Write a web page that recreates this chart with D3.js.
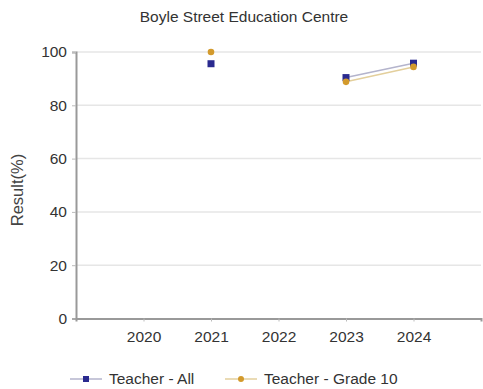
<!DOCTYPE html>
<html>
<head>
<meta charset="utf-8">
<script src="https://cdn.jsdelivr.net/npm/d3@7"></script>
<style>
  html, body { margin: 0; padding: 0; background: #fff; }
  svg { display: block; font-family: Arial, "Liberation Sans", sans-serif; }
</style>
</head>
<body>
<svg id="chart" width="483" height="389"></svg>
<script>
// Years shown on the x axis
const years = [2020, 2021, 2022, 2023, 2024];
// Results per year (null = no result reported)
const teacherAll = [null, 95.6, null, 90.4, 95.8];
const teacherGrade10 = [null, 100, null, 88.8, 94.4];
const yTicks = [0, 20, 40, 60, 80, 100];

const seriesNames = ["Teacher - All", "Teacher - Grade 10"];

const svg = d3.select("#chart");
const plotLeft = 76, plotRight = 481, plotTop = 52, plotBottom = 318.5;
const fontSize = 15.5;
const fontFamily = "Arial, Liberation Sans, sans-serif";

const x = d3.scaleLinear().domain([2019, 2025]).range([plotLeft, plotRight]);
const y = d3.scaleLinear().domain([0, 100]).range([plotBottom, plotTop]);

// Title
svg.append("text")
  .attr("x", 244).attr("y", 22)
  .attr("text-anchor", "middle")
  .attr("font-size", fontSize)
  .attr("fill", "#333")
  .text("Boyle Street Education Centre");

// Gridlines
svg.append("g")
  .selectAll("line")
  .data(yTicks.filter(d => d > 0))
  .join("line")
  .attr("x1", plotLeft).attr("x2", plotRight)
  .attr("y1", d => y(d)).attr("y2", d => y(d))
  .attr("stroke", "#e6e6e6").attr("stroke-width", 1.5);

// Y axis
const yAxis = svg.append("g")
  .attr("transform", `translate(${plotLeft},0)`)
  .call(d3.axisLeft(y).tickValues(yTicks).tickSize(4).tickPadding(5));
yAxis.select(".domain").attr("stroke", "#999").attr("stroke-width", 2);
yAxis.selectAll(".tick line").attr("stroke", "#bbb");
yAxis.selectAll("text").attr("font-size", fontSize).attr("fill", "#333").attr("font-family", fontFamily);

// X axis
const xAxis = svg.append("g")
  .attr("transform", `translate(0,${plotBottom})`)
  .call(d3.axisBottom(x).tickValues(years).tickFormat(d3.format("d")).tickSize(3).tickPadding(9));
xAxis.select(".domain").attr("stroke", "#999").attr("stroke-width", 2);
xAxis.selectAll(".tick line").attr("stroke", "#bbb");
xAxis.selectAll("text").attr("font-size", fontSize).attr("fill", "#333").attr("font-family", fontFamily);

// Y axis title
svg.append("text")
  .attr("transform", `translate(23,190) rotate(-90)`)
  .attr("text-anchor", "middle")
  .attr("font-size", 16.5)
  .attr("fill", "#444")
  .text("Result(%)");

const series = [
  { name: seriesNames[0], values: teacherAll, line: "#b4b4cc", color: "#2a2a8f", shape: "square" },
  { name: seriesNames[1], values: teacherGrade10, line: "#e3cf9c", color: "#d39a2c", shape: "circle" }
];

const line = d3.line()
  .defined(d => d.v != null)
  .x(d => x(d.year)).y(d => y(d.v));

// Lines first, then markers (Grade 10 drawn under Teacher - All)
[...series].reverse().forEach(s => {
  const pts = years.map((yr, i) => ({ year: yr, v: s.values[i] }));
  svg.append("path")
    .datum(pts)
    .attr("d", line)
    .attr("fill", "none")
    .attr("stroke", s.line)
    .attr("stroke-width", 1.5);
});

series.forEach(s => {
  const pts = years.map((yr, i) => ({ year: yr, v: s.values[i] })).filter(d => d.v != null);
  const g = svg.append("g");
  if (s.shape === "square") {
    g.selectAll("rect").data(pts).join("rect")
      .attr("x", d => x(d.year) - 3.5).attr("y", d => y(d.v) - 3.5)
      .attr("width", 7).attr("height", 7)
      .attr("fill", s.color);
  } else {
    g.selectAll("circle").data(pts).join("circle")
      .attr("cx", d => x(d.year)).attr("cy", d => y(d.v))
      .attr("r", 3.3)
      .attr("fill", s.color);
  }
});

// Legend
const legendItems = [
  { s: series[0], x0: 70, tx: 109 },
  { s: series[1], x0: 225, tx: 264 }
];
const ly = 379;
legendItems.forEach(({ s, x0, tx }) => {
  const g = svg.append("g");
  g.append("line")
    .attr("x1", x0).attr("x2", x0 + 32).attr("y1", ly).attr("y2", ly)
    .attr("stroke", s.line).attr("stroke-width", 1.5);
  if (s.shape === "square") {
    g.append("rect").attr("x", x0 + 16 - 3).attr("y", ly - 3).attr("width", 6).attr("height", 6).attr("fill", s.color);
  } else {
    g.append("circle").attr("cx", x0 + 16).attr("cy", ly).attr("r", 3).attr("fill", s.color);
  }
  g.append("text")
    .attr("x", tx).attr("y", ly + 5)
    .attr("font-size", fontSize).attr("fill", "#333")
    .attr("font-family", fontFamily)
    .text(s.name);
});
</script>
</body>
</html>
